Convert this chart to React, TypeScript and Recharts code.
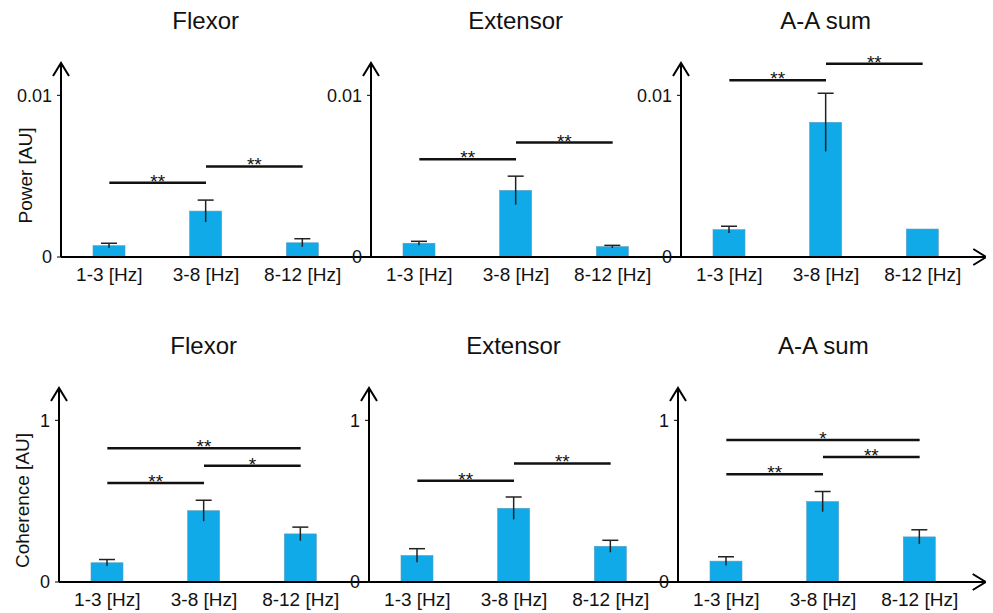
import React from "react";
import { BarChart, Bar, XAxis, YAxis, ReferenceLine } from "recharts";

const categories = ["1-3 [Hz]", "3-8 [Hz]", "8-12 [Hz]"];
const titles = ["Flexor", "Extensor", "A-A sum"];

// Power [AU]
const powerFlexor = [0.0007, 0.00284, 0.00088];
const powerFlexorErr = [0.00015, 0.00068, 0.00025];
const powerExtensor = [0.00085, 0.00412, 0.00064];
const powerExtensorErr = [0.00012, 0.00088, 0.00008];
const powerSum = [0.00169, 0.00833, 0.00173];
const powerSumErr = [0.00021, 0.0018, 0];

// Coherence [AU]
const cohFlexor = [0.119, 0.441, 0.2975];
const cohFlexorErr = [0.02, 0.065, 0.042];
const cohExtensor = [0.164, 0.456, 0.221];
const cohExtensorErr = [0.042, 0.069, 0.037];
const cohSum = [0.129, 0.4975, 0.279];
const cohSumErr = [0.027, 0.0625, 0.044];

// significance bars: [from category, to category, height, stars]
type Sig = [number, number, number, string];
const powerFlexorSig: Sig[] = [[0, 1, 0.00459, "**"], [1, 2, 0.0056, "**"]];
const powerExtensorSig: Sig[] = [[0, 1, 0.00605, "**"], [1, 2, 0.00708, "**"]];
const powerSumSig: Sig[] = [[0, 1, 0.01093, "**"], [1, 2, 0.01196, "**"]];
const cohFlexorSig: Sig[] = [[0, 1, 0.6125, "**"], [1, 2, 0.719, "*"], [0, 2, 0.827, "**"]];
const cohExtensorSig: Sig[] = [[0, 1, 0.627, "**"], [1, 2, 0.733, "**"]];
const cohSumSig: Sig[] = [[0, 1, 0.666, "**"], [1, 2, 0.7725, "**"], [0, 2, 0.879, "*"]];

const powerTicks = [0, 0.01];
const cohTicks = [0, 1];

const FONT = "'Liberation Sans', Arial, sans-serif";
const BAR = "#10aae8";

const toRows = (vals: number[], errs: number[]) =>
  categories.map((cat, i) => ({ cat, v: vals[i], e: errs[i] }));

// bar with a one-sided cap error bar (cap only on top, like the original figure)
const BarWithErr = (props: any) => {
  const { x, y, width, height, payload } = props;
  const k = payload.v ? height / payload.v : 0;
  const ep = payload.e * k;
  const cx = x + width / 2;
  return (
    <g>
      <rect x={x} y={y} width={width} height={height} fill={BAR} stroke="#5b9cc0" strokeWidth={0.6} />
      {ep > 0 && (
        <>
          <line x1={cx} x2={cx} y1={y - ep} y2={y + ep} stroke="#222" strokeWidth={1.5} />
          <line x1={cx - 8} x2={cx + 8} y1={y - ep} y2={y - ep} stroke="#222" strokeWidth={1.5} />
        </>
      )}
    </g>
  );
};

interface PanelProps {
  axisX: number;
  top: number;
  plotW: number;
  title: string;
  vals: number[];
  errs: number[];
  sig: Sig[];
  max: number;
  ticks: number[];
  yLabel?: string;
  last?: boolean;
}

function Panel({ axisX, top, plotW, title, vals, errs, sig, max, ticks, yLabel, last }: PanelProps) {
  const yW = 60;
  const data = toRows(vals, errs);
  return (
    <>
      <div
        style={{
          position: "absolute",
          left: axisX,
          width: 290,
          top: top + 9,
          textAlign: "center",
          fontFamily: FONT,
          fontSize: 24,
          lineHeight: "24px",
          color: "#111",
        }}
      >
        {title}
      </div>
      <div style={{ position: "absolute", left: axisX - yW, top }}>
        <BarChart
          width={yW + plotW}
          height={300}
          data={data}
          margin={{ top: 63, right: 0, left: 0, bottom: 0 }}
        >
          <XAxis
            dataKey="cat"
            height={43}
            interval={0}
            padding={{ left: 0, right: plotW - 290 }}
            tickLine={false}
            tickSize={0}
            tickMargin={11}
            axisLine={{
              stroke: "#000",
              strokeWidth: 2,
              markerEnd: last ? "url(#axArrow)" : undefined,
            }}
            tick={{ fontSize: 19, fill: "#111", fontFamily: FONT }}
          />
          <YAxis
            type="number"
            domain={[0, max]}
            ticks={ticks}
            allowDataOverflow
            width={yW}
            tickSize={4}
            tickMargin={5}
            tickLine={{ stroke: "#000", strokeWidth: 1 }}
            axisLine={{ stroke: "#000", strokeWidth: 2, markerStart: "url(#axArrow)" }}
            tick={{ fontSize: 18, fill: "#111", fontFamily: FONT }}
            label={
              yLabel
                ? {
                    content: ({ viewBox }: any) => {
                      const cx = viewBox.x + 24;
                      const cy = viewBox.y + viewBox.height / 2 + 15.5;
                      return (
                        <text
                          x={cx}
                          y={cy}
                          transform={`rotate(-90, ${cx}, ${cy})`}
                          textAnchor="middle"
                          dominantBaseline="central"
                          fontSize={19}
                          fontFamily={FONT}
                          fill="#111"
                        >
                          {yLabel}
                        </text>
                      );
                    },
                  }
                : undefined
            }
          />
          <Bar dataKey="v" barSize={32} shape={BarWithErr} isAnimationActive={false} />
          {sig.map(([a, b, y, s], i) => (
            <ReferenceLine
              key={i}
              segment={[
                { x: categories[a], y },
                { x: categories[b], y },
              ]}
              stroke="#111"
              strokeWidth={2.5}
              ifOverflow="visible"
              label={{
                content: ({ viewBox }: any) => (
                  <text
                    x={viewBox.x + viewBox.width / 2}
                    y={viewBox.y + 5}
                    textAnchor="middle"
                    fontSize={19}
                    fontFamily={FONT}
                    fill="#111"
                  >
                    {s}
                  </text>
                ),
              }}
            />
          ))}
        </BarChart>
      </div>
    </>
  );
}

export default function App() {
  const topRow = 0;
  const botRow = 325;
  const topAxes = [60.7, 370.7, 680.7];
  const botAxes = [58.7, 368.5, 678.3];
  const end = 986;
  return (
    <div style={{ position: "absolute", left: 0, top: 0, width: 993, height: 613, background: "#fff" }}>
      <svg width={0} height={0} style={{ position: "absolute" }}>
        <defs>
          <marker
            id="axArrow"
            markerUnits="userSpaceOnUse"
            markerWidth={30}
            markerHeight={30}
            refX={0}
            refY={0}
            orient="auto-start-reverse"
            overflow="visible"
          >
            <path d="M -13 -8 L 0 0 L -13 8" fill="none" stroke="#000" strokeWidth={2} />
          </marker>
        </defs>
      </svg>

      <Panel axisX={topAxes[0]} top={topRow} plotW={topAxes[1] - topAxes[0]} title={titles[0]}
        vals={powerFlexor} errs={powerFlexorErr} sig={powerFlexorSig} max={0.012} ticks={powerTicks} yLabel="Power [AU]" />
      <Panel axisX={topAxes[1]} top={topRow} plotW={topAxes[2] - topAxes[1]} title={titles[1]}
        vals={powerExtensor} errs={powerExtensorErr} sig={powerExtensorSig} max={0.012} ticks={powerTicks} />
      <Panel axisX={topAxes[2]} top={topRow} plotW={end - topAxes[2]} title={titles[2]}
        vals={powerSum} errs={powerSumErr} sig={powerSumSig} max={0.012} ticks={powerTicks} last />

      <Panel axisX={botAxes[0]} top={botRow} plotW={botAxes[1] - botAxes[0]} title={titles[0]}
        vals={cohFlexor} errs={cohFlexorErr} sig={cohFlexorSig} max={1.2} ticks={cohTicks} yLabel="Coherence [AU]" />
      <Panel axisX={botAxes[1]} top={botRow} plotW={botAxes[2] - botAxes[1]} title={titles[1]}
        vals={cohExtensor} errs={cohExtensorErr} sig={cohExtensorSig} max={1.2} ticks={cohTicks} />
      <Panel axisX={botAxes[2]} top={botRow} plotW={end - botAxes[2]} title={titles[2]}
        vals={cohSum} errs={cohSumErr} sig={cohSumSig} max={1.2} ticks={cohTicks} last />
    </div>
  );
}
